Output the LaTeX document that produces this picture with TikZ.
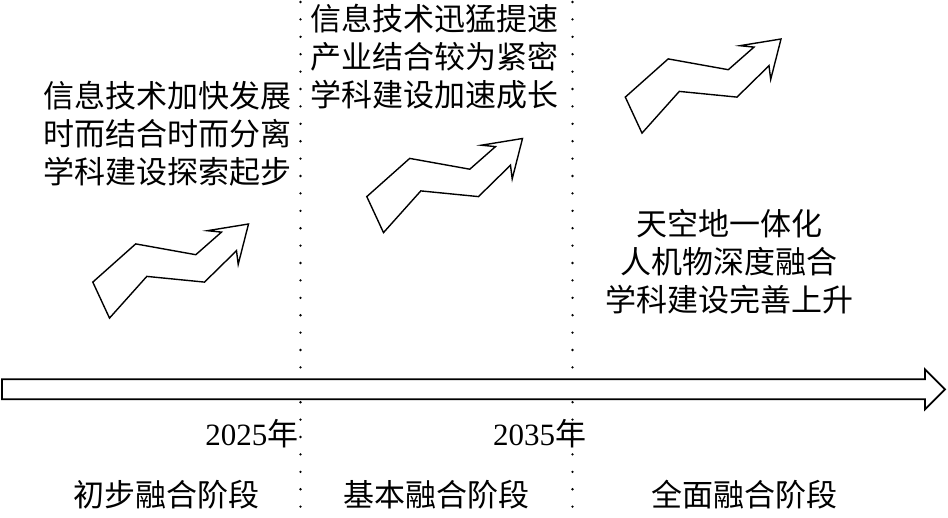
\documentclass[tikz,border=0pt]{standalone}
\usepackage{fontspec}
\setmainfont{Noto Sans CJK SC}
\newfontfamily\latinserif{Liberation Serif}
\begin{document}
\begin{tikzpicture}[x=1pt,y=-1pt,
  txt/.style={inner sep=0pt,align=center,font=\fontsize{31pt}{38pt}\selectfont},
  zig/.style={draw=black,line width=1.4pt,line join=miter,fill=white},
  sep/.style={line width=2.6pt,line cap=round,dash pattern=on 0pt off 17.4pt},
  bigarrow/.style={draw=black,line width=1.8pt,fill=white,line join=miter}]
\useasboundingbox (0,0) rectangle (948,517);
\newcommand\zigarrow[1]{%
  \draw[zig,shift={#1}] (0,0) -- (-41.1,6.7) -- (-27,8.1) -- (-52.7,30.7) -- (-112.8,19.9)
    -- (-155.7,58.1) -- (-139,94.1) -- (-101.7,52.4) -- (-44,58.1) -- (-12,26.7)
    -- (-10.3,40.4) -- cycle;}
% separators
\draw[sep] (300.5,2) -- (300.5,517);
\draw[sep] (572.5,2) -- (572.5,517);
% timeline arrow
\draw[bigarrow] (2,379.3) -- (925,379.3) -- (925,369.3) -- (945,389.3) -- (925,409.3)
  -- (925,399.3) -- (2,399.3) -- cycle;
% zigzag arrows
\zigarrow{(248.5,224)}
\zigarrow{(522.5,138.5)}
\zigarrow{(781,39)}
% texts
\node[txt] (t1) at (167.5,134) {信息技术加快发展\\时而结合时而分离\\学科建设探索起步};
\node[txt] (t2) at (434,57) {信息技术迅猛提速\\产业结合较为紧密\\学科建设加速成长};
\node[txt] (t3) at (729,262) {天空地一体化\\人机物深度融合\\学科建设完善上升};
\node[txt,anchor=east] (y1) at (298.5,434) {{\latinserif 2025}年};
\node[txt,anchor=west] (y2) at (493,434) {{\latinserif 2035}年};
\node[txt] (s1) at (166,495) {初步融合阶段};
\node[txt] (s2) at (436,495) {基本融合阶段};
\node[txt] (s3) at (744,495) {全面融合阶段};
\end{tikzpicture}
\end{document}
